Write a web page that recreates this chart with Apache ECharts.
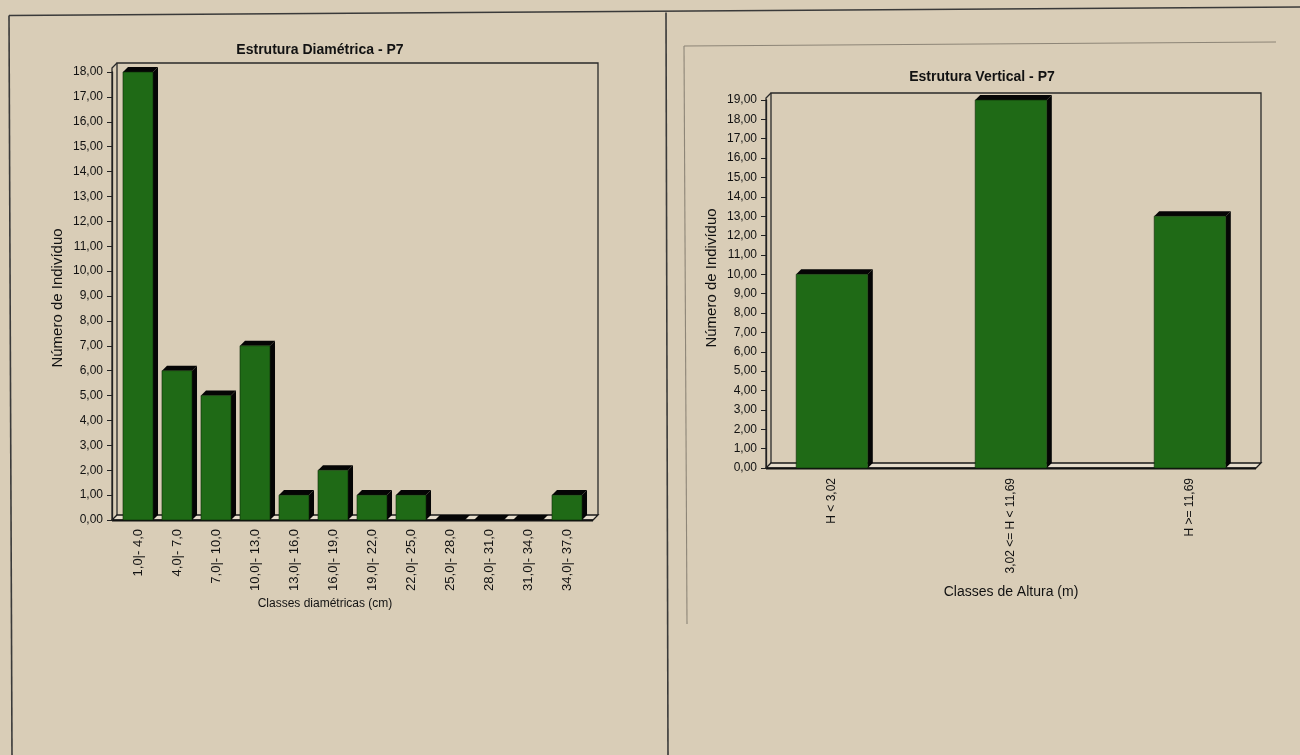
<!DOCTYPE html>
<html>
<head>
<meta charset="utf-8">
<script src="https://cdn.jsdelivr.net/npm/echarts@6/dist/echarts.min.js"></script>
<style>
html,body{margin:0;padding:0;background:#d9cdb7;}
#c{width:1300px;height:755px;}
</style>
</head>
<body>
<div id="c"></div>
<script>
// ---- data ----
const diamCategories = ["1,0|- 4,0","4,0|- 7,0","7,0|- 10,0","10,0|- 13,0","13,0|- 16,0","16,0|- 19,0","19,0|- 22,0","22,0|- 25,0","25,0|- 28,0","28,0|- 31,0","31,0|- 34,0","34,0|- 37,0"];
const diamValues = [18, 6, 5, 7, 1, 2, 1, 1, 0, 0, 0, 1];
const heightCategories = ["H < 3,02", "3,02 <= H < 11,69", "H >= 11,69"];
const heightValues = [10, 19, 13];
const diamTitle = "Estrutura Diamétrica - P7";
const vertTitle = "Estrutura Vertical - P7";
const yName = "Número de Indivíduo";
const diamXName = "Classes diamétricas (cm)";
const vertXName = "Classes de Altura (m)";

// ---- layout ----
const FONT = "'Liberation Sans', Arial, sans-serif";
const INK = '#121212';
const GREEN = '#1f6a16';
const D = 5; // 3D depth
const G1 = {left:118.5, top:72, width:468, height:448};
const G2 = {left:742.5, top:100, width:537, height:368};
const AX1 = 112, AX2 = 766;      // front axis x
const R1 = 598, R2 = 1261;       // back right wall x
const TOP1 = 63, TOP2 = 93;      // box top

const chart = echarts.init(document.getElementById('c'), null, {renderer:'canvas'});

function bar3D(widthRatio) {
  return function (params, api) {
    const cx = api.coord([api.value(0), 0])[0];
    const base = api.coord([api.value(0), 0])[1];
    const top = api.coord([api.value(0), api.value(1)])[1];
    const band = api.size([1, 0])[0];
    const w = band * widthRatio;
    const x0 = cx - w / 2, x1 = cx + w / 2;
    const children = [
      {type:'polygon', shape:{points:[[x1, top],[x1 + D, top - D],[x1 + D, base - D],[x1, base]]}, style:{fill:'#050505'}},
      {type:'polygon', shape:{points:[[x0, top],[x0 + D, top - D],[x1 + D, top - D],[x1, top]]}, style:{fill:'#050505'}}
    ];
    if (base - top > 0.5) {
      children.push({type:'rect', shape:{x:x0, y:top, width:w, height:base - top}, style:{fill:GREEN, stroke:'#0d2a08', lineWidth:0.6}});
    }
    return {type:'group', children};
  };
}

function frame(axX, rightX, topY, baseY) {
  const s = {stroke:'#2a2a2a', lineWidth:1.3, fill:null};
  return [
    {type:'polyline', zlevel:0, shape:{points:[[axX + D, baseY - D],[axX + D, topY],[rightX, topY],[rightX, baseY - D]]}, style:s},
    {type:'polyline', zlevel:0, shape:{points:[[axX, baseY],[axX, topY + D],[axX + D, topY]]}, style:s},
    {type:'polygon', zlevel:0, shape:{points:[[axX, baseY],[axX + D, baseY - D],[rightX, baseY - D],[rightX - D, baseY]]}, style:{fill:'#e6ddcc', stroke:'#1a1a1a', lineWidth:1.3}},
    {type:'line', zlevel:0, shape:{x1:axX, y1:baseY + 0.5, x2:rightX - D, y2:baseY + 0.5}, style:{stroke:'#111', lineWidth:2}}
  ];
}

const lineStyle = {stroke:'#3a3a3a', lineWidth:1.6};
const faint = {stroke:'#8d8577', lineWidth:1.1};

const textEl = (t, x, y, size, weight, rot) => ({
  type:'text', zlevel:0, x:x, y:y, rotation: rot || 0,
  style:{text:t, fill:INK, font: (weight||'normal') + ' ' + size + 'px ' + FONT, textAlign:'center', textVerticalAlign:'middle'}
});

const fmt = v => v.toFixed(2).replace('.', ',');

const option = {
  backgroundColor:'transparent',
  animation:false,
  grid:[
    Object.assign({containLabel:false}, G1),
    Object.assign({containLabel:false}, G2)
  ],
  xAxis:[
    {type:'category', gridIndex:0, data:diamCategories, boundaryGap:true,
     axisLine:{show:false}, axisTick:{show:false}, splitLine:{show:false},
     axisLabel:{rotate:90, margin:9, fontSize:13, color:INK, fontFamily:FONT, interval:0}},
    {type:'category', gridIndex:1, data:heightCategories, boundaryGap:true,
     axisLine:{show:false}, axisTick:{show:false}, splitLine:{show:false},
     axisLabel:{rotate:90, margin:10, fontSize:12, color:INK, fontFamily:FONT, interval:0}}
  ],
  yAxis:[
    {type:'value', gridIndex:0, min:0, max:18, interval:1, offset:G1.left - AX1,
     axisLine:{show:true, lineStyle:{color:'#222', width:1.3}},
     axisTick:{show:true, length:5, lineStyle:{color:'#222'}},
     splitLine:{show:false},
     axisLabel:{margin:9, fontSize:12, color:INK, fontFamily:FONT, formatter:fmt}},
    {type:'value', gridIndex:1, min:0, max:19, interval:1, offset:G2.left - AX2,
     axisLine:{show:true, lineStyle:{color:'#222', width:1.3}},
     axisTick:{show:true, length:5, lineStyle:{color:'#222'}},
     splitLine:{show:false},
     axisLabel:{margin:9, fontSize:12, color:INK, fontFamily:FONT, formatter:fmt}}
  ],
  series:[
    {type:'custom', xAxisIndex:0, yAxisIndex:0, zlevel:1, renderItem:bar3D(0.77),
     data: diamValues.map((v, i) => [i, v])},
    {type:'custom', xAxisIndex:1, yAxisIndex:1, zlevel:1, renderItem:bar3D(0.4),
     data: heightValues.map((v, i) => [i, v])}
  ],
  graphic:[
    {type:'line', zlevel:0, shape:{x1:9, y1:15.5, x2:1300, y2:7}, style:lineStyle},
    {type:'line', zlevel:0, shape:{x1:9, y1:15.5, x2:12, y2:755}, style:lineStyle},
    {type:'line', zlevel:0, shape:{x1:666, y1:12.5, x2:668, y2:755}, style:lineStyle},
    {type:'line', zlevel:0, shape:{x1:684, y1:46, x2:1276, y2:42}, style:faint},
    {type:'line', zlevel:0, shape:{x1:684, y1:46, x2:687, y2:624}, style:faint},
    ...frame(AX1, R1, TOP1, G1.top + G1.height),
    ...frame(AX2, R2, TOP2, G2.top + G2.height),
    textEl(diamTitle, 320, 50, 14, 'bold'),
    textEl(vertTitle, 982, 77, 14, 'bold'),
    textEl(yName, 58, 298, 15, 'normal', Math.PI / 2),
    textEl(yName, 712, 278, 15, 'normal', Math.PI / 2),
    textEl(diamXName, 325, 604, 12, 'normal'),
    textEl(vertXName, 1011, 592, 14, 'normal')
  ]
};
chart.setOption(option);
</script>
</body>
</html>
